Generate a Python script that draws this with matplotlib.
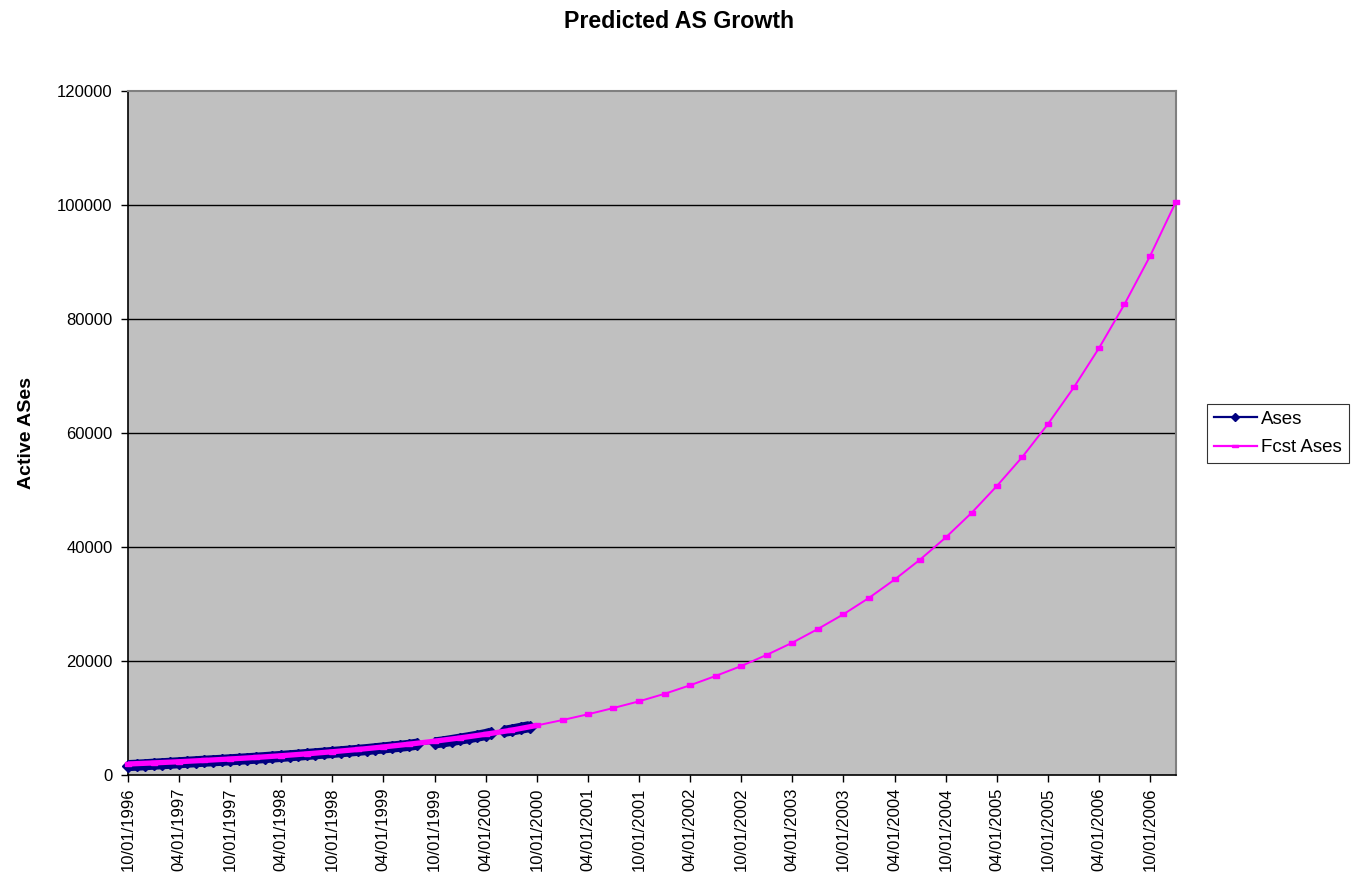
import matplotlib
matplotlib.use("Agg")
import matplotlib.pyplot as plt
from matplotlib.lines import Line2D
import numpy as np
import pandas as pd

plt.rcParams['font.family'] = ['Liberation Sans', 'DejaVu Sans']

# ---- data ----
title = "Predicted AS Growth"
y_label = "Active ASes"
series_names = ["Ases", "Fcst Ases"]

ases_dates = [
    "1996-10-01", "1996-11-01", "1996-12-01",
    "1997-01-01", "1997-02-01", "1997-03-01", "1997-04-01", "1997-05-01", "1997-06-01",
    "1997-07-01", "1997-08-01", "1997-09-01", "1997-10-01", "1997-11-01", "1997-12-01",
    "1998-01-01", "1998-02-01", "1998-03-01", "1998-04-01", "1998-05-01", "1998-06-01",
    "1998-07-01", "1998-08-01", "1998-09-01", "1998-10-01", "1998-11-01", "1998-12-01",
    "1999-01-01", "1999-02-01", "1999-03-01", "1999-04-01", "1999-05-01", "1999-06-01",
    "1999-07-01", "1999-08-01",
    "1999-10-01", "1999-11-01", "1999-12-01", "2000-01-01", "2000-02-01", "2000-03-01",
    "2000-04-01", "2000-04-20",
    "2000-06-05", "2000-07-05", "2000-08-05", "2000-09-05",
]
ases_values = [
    1650, 1720, 1800,
    1900, 1980, 2060, 2150, 2240, 2330,
    2420, 2500, 2580, 2670, 2760, 2850,
    2950, 3050, 3150, 3260, 3370, 3480,
    3600, 3720, 3840, 3960, 4080, 4200,
    4330, 4460, 4600, 4750, 4900, 5050,
    5200, 5420,
    5620, 5820, 6050, 6300, 6550, 6800,
    7100, 7350,
    7650, 7900, 8200, 8500,
]

fcst_dates = [
    "1996-10-01", "1997-01-01", "1997-04-01", "1997-07-01", "1997-10-01",
    "1998-01-01", "1998-04-01", "1998-07-01", "1998-10-01",
    "1999-01-01", "1999-04-01", "1999-07-01", "1999-10-01",
    "2000-01-01", "2000-04-01", "2000-07-01", "2000-10-01",
    "2001-01-01", "2001-04-01", "2001-07-01", "2001-10-01",
    "2002-01-01", "2002-04-01", "2002-07-01", "2002-10-01",
    "2003-01-01", "2003-04-01", "2003-07-01", "2003-10-01",
    "2004-01-01", "2004-04-01", "2004-07-01", "2004-10-01",
    "2005-01-01", "2005-04-01", "2005-07-01", "2005-10-01",
    "2006-01-01", "2006-04-01", "2006-07-01", "2006-10-01",
    "2007-01-01",
]
fcst_values = [
    1930, 2120, 2330, 2560, 2810,
    3080, 3380, 3710, 4080,
    4480, 4920, 5400, 5930,
    6510, 7150, 7850, 8700,
    9650, 10650, 11750, 12930,
    14260, 15740, 17370, 19120,
    21100, 23200, 25600, 28200,
    31100, 34300, 37800, 41700,
    46000, 50700, 55800, 61600,
    68000, 74900, 82600, 91100,
    100600,
]

y_ticks = [0, 20000, 40000, 60000, 80000, 100000, 120000]
x_start, x_end = "1996-10-01", "2007-01-01"
x_tick_start, x_tick_end = "1996-10-01", "2006-10-01"

NAVY = '#000080'
MAGENTA = '#FF00FF'

# ---- figure ----
W, H = 1357, 896
fig = plt.figure(figsize=(W / 100, H / 100), dpi=100)
L, R, T, B = 128, 1176, 91, 775
ax = fig.add_axes([L / W, (H - B) / H, (R - L) / W, (B - T) / H])
ax.set_facecolor('#C0C0C0')

ad = pd.to_datetime(ases_dates)
fd = pd.to_datetime(fcst_dates)
av = np.array(ases_values, dtype=float)
fv = np.array(fcst_values, dtype=float)

for yv in y_ticks[1:-1]:
    ax.axhline(yv, color='black', lw=1.0, zorder=1)

# Observed series: dense markers form a thick band, broken where data is missing
gaps = np.where(np.diff(ad.values).astype('timedelta64[D]').astype(int) > 40)[0]
bounds = [0] + list(gaps + 1) + [len(ad)]
ax.plot(ad, av, color=NAVY, lw=1.5, zorder=2)
for a, b in zip(bounds[:-1], bounds[1:]):
    ax.plot(ad[a:b], av[a:b], color=NAVY, lw=8.0, marker='D', ms=6.3,
            markerfacecolor=NAVY, markeredgecolor=NAVY, zorder=3,
            solid_capstyle='butt', clip_on=False)

# Forecast series
dash = [(-1, -0.45), (1, -0.45), (1, 0.45), (-1, 0.45), (-1, -0.45)]
ax.plot(fd, fv, color=MAGENTA, lw=1.4, marker=dash, ms=5,
        markerfacecolor=MAGENTA, markeredgecolor=MAGENTA, zorder=4,
        clip_on=False)
mask = fd <= pd.Timestamp("2000-10-01")
ax.plot(fd[mask], fv[mask], color=MAGENTA, lw=3.8, zorder=4,
        solid_capstyle='butt')

ax.set_xlim(pd.Timestamp(x_start), pd.Timestamp(x_end))
ax.set_ylim(0, 120000)
ax.set_yticks(y_ticks)
ax.set_yticklabels([str(v) for v in y_ticks], fontsize=12)

xt = pd.date_range(x_tick_start, x_tick_end, freq="6MS")
ax.set_xticks(xt)
ax.set_xticklabels([d.strftime("%m/%d/%Y") for d in xt], rotation=90, fontsize=12)

ax.tick_params(axis='both', direction='out', length=5, width=1, color='black')
ax.tick_params(axis='x', pad=4)
ax.tick_params(axis='y', pad=6)
for s in ['top', 'right']:
    ax.spines[s].set_color('#808080')
    ax.spines[s].set_linewidth(1.5)
for s in ['left', 'bottom']:
    ax.spines[s].set_color('black')
    ax.spines[s].set_linewidth(1.2)

fig.text(27 / W, 1 - 433 / H, y_label, rotation=90, ha='center', va='center',
         fontsize=14, fontweight='bold')
fig.text(0.5, 1 - 21 / H, title, ha='center', va='center',
         fontsize=16.7, fontweight='bold')

handles = [
    Line2D([], [], color=NAVY, lw=1.6, marker='D', ms=4.5,
           markerfacecolor=NAVY, markeredgecolor=NAVY),
    Line2D([], [], color=MAGENTA, lw=1.6, marker=dash, ms=4,
           markerfacecolor=MAGENTA, markeredgecolor=MAGENTA),
]
leg = fig.legend(handles, series_names, loc='upper left',
                 bbox_to_anchor=(1207 / W, 1 - 404 / H), fontsize=13.5,
                 frameon=True, fancybox=False, edgecolor='black',
                 handlelength=2.3, handletextpad=0.25, borderpad=0.35,
                 labelspacing=0.6, borderaxespad=0)
leg.get_frame().set_linewidth(0.8)

fig.savefig("out.png", dpi=100)
